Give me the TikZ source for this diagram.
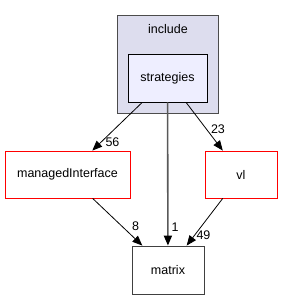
\documentclass[tikz,border=0pt]{standalone}
\usepackage{fontspec}
\setmainfont{Liberation Sans}
\usetikzlibrary{arrows.meta}
\definecolor{clusterfill}{HTML}{DDDDEE}
\definecolor{dirfill}{HTML}{EEEEFF}
\tikzset{
  px/.style={x=1pt,y=-1pt},
  dirbox/.style={draw=black, line width=0.8pt, fill=white, inner sep=0pt, font=\fontsize{12.5}{14}\selectfont},
  redbox/.style={dirbox, draw=red},
  edge/.style={draw=black, line width=0.8pt, -{Triangle[length=10pt,width=8pt]}},
  thickedge/.style={draw=black!65, line width=1.6pt, -{Triangle[length=10pt,width=8pt,fill=black,color=black]}},
  lab/.style={font=\fontsize{12.5}{14}\selectfont, inner sep=0pt}
}
\begin{document}
\begin{tikzpicture}[px]
\useasboundingbox (0,0) rectangle (283,300);
\node[draw=black!70, line width=0.8pt, fill=clusterfill, minimum width=101pt, minimum height=98pt, inner sep=0pt] (include) at (168,64) {};
\node[lab] (includelab) at (168,29) {include};
\node[dirbox, fill=dirfill, minimum width=79pt, minimum height=48pt] (strategies) at (167.5,78) {strategies};
\node[redbox, minimum width=125pt, minimum height=47pt] (managed) at (67.5,174.5) {managedInterface};
\node[redbox, minimum width=72pt, minimum height=47pt] (vl) at (241,174.5) {vl};
\node[dirbox, draw=black!75, minimum width=72pt, minimum height=48pt] (matrix) at (168,270) {matrix};
\draw[edge] (strategies) -- (managed);
\draw[edge] (strategies) -- (vl);
\draw[thickedge] (strategies) -- (matrix);
\draw[edge] (managed) -- (matrix);
\draw[edge] (vl) -- (matrix);
\node[lab] (l56) at (112.5,142.5) {56};
\node[lab] (l23) at (218,129) {23};
\node[lab] (l8) at (135.5,226.5) {8};
\node[lab] (l1) at (175,227) {1};
\node[lab] (l49) at (203.5,235) {49};
\end{tikzpicture}
\end{document}
